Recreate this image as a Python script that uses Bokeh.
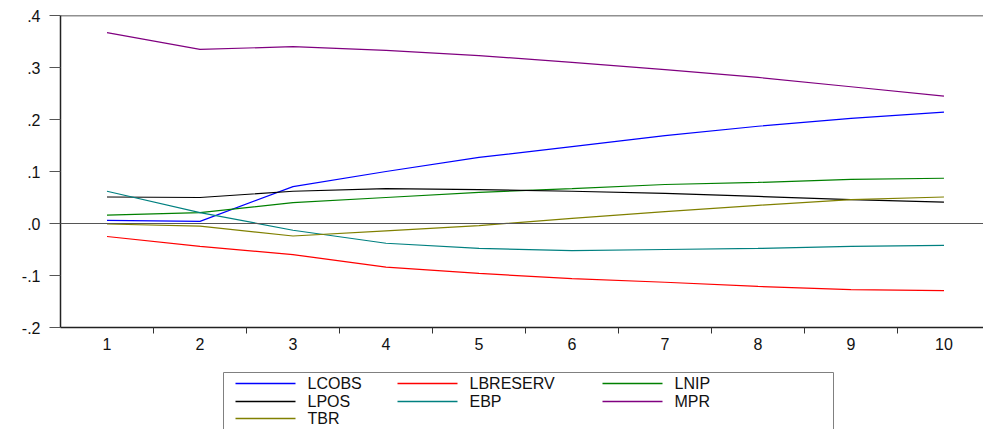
from bokeh.plotting import figure
from bokeh.layouts import column
from bokeh.models import (FixedTicker, CustomJSTickFormatter, Span, Range1d, ColumnDataSource)
from bokeh.core.properties import value
from bokeh.embed import file_html
from bokeh.resources import INLINE

periods = [1, 2, 3, 4, 5, 6, 7, 8, 9, 10]
lcobs = [0.006, 0.004, 0.071, 0.100, 0.127, 0.148, 0.169, 0.187, 0.202, 0.214]
lbreserv = [-0.025, -0.044, -0.060, -0.084, -0.096, -0.106, -0.113, -0.121, -0.127, -0.129]
lnip = [0.016, 0.021, 0.040, 0.050, 0.060, 0.067, 0.075, 0.079, 0.085, 0.087]
lpos = [0.051, 0.050, 0.062, 0.067, 0.065, 0.062, 0.058, 0.052, 0.046, 0.041]
ebp = [0.062, 0.021, -0.013, -0.038, -0.048, -0.052, -0.050, -0.048, -0.044, -0.042]
mpr = [0.367, 0.335, 0.340, 0.333, 0.323, 0.310, 0.296, 0.281, 0.263, 0.245]
tbr = [-0.001, -0.005, -0.024, -0.014, -0.004, 0.010, 0.023, 0.035, 0.046, 0.051]

series_names = ["LCOBS", "LBRESERV", "LNIP", "LPOS", "EBP", "MPR", "TBR"]
series_values = [lcobs, lbreserv, lnip, lpos, ebp, mpr, tbr]
series_colors = ["#0000FF", "#FF0000", "#008000", "#000000", "#008080", "#800080", "#808000"]
y_ticks = [-0.2, -0.1, 0.0, 0.1, 0.2, 0.3, 0.4]

FONT = "Liberation Sans"
W = 983
LEFT = 60

p = figure(width=W, height=365, output_backend="svg", toolbar_location=None,
           x_range=Range1d(0.5, 10.425), y_range=Range1d(-0.2, 0.4),
           min_border_top=15, min_border_right=0, min_border_left=LEFT,
           min_border_bottom=38)
p.outline_line_color = None
p.grid.visible = False

p.add_layout(Span(location=0, dimension="width", line_color="#555555", line_width=1))
p.add_layout(Span(location=0.4, dimension="width", line_color="#222222", line_width=1.5))

for vals, col in zip(series_values, series_colors):
    p.line(periods, vals, line_color=col, line_width=1.2)

xa = p.xaxis[0]
xa.ticker = FixedTicker(ticks=periods, minor_ticks=[1.5, 2.5, 3.5, 4.5, 5.5, 6.5, 7.5, 8.5, 9.5, 10.5])
xa.major_tick_line_color = None
xa.major_tick_in = 0
xa.major_tick_out = 6
xa.minor_tick_in = 0
xa.minor_tick_out = 6
xa.minor_tick_line_color = "#333333"
xa.axis_line_color = "#222222"
xa.axis_line_width = 1.5
xa.major_label_text_font = FONT
xa.major_label_text_font_size = "16px"
xa.major_label_text_color = "#111111"
xa.major_label_standoff = 4

ya = p.yaxis[0]
ya.ticker = FixedTicker(ticks=y_ticks, minor_ticks=[])
ya.formatter = CustomJSTickFormatter(code="return tick.toFixed(1).replace('0.', '.');")
ya.major_tick_in = 0
ya.major_tick_out = 11
ya.major_tick_line_color = "#555555"
ya.axis_line_color = "#222222"
ya.axis_line_width = 1.5
ya.minor_tick_line_color = None
ya.major_label_text_font = FONT
ya.major_label_text_font_size = "16px"
ya.major_label_text_color = "#111111"
ya.major_label_standoff = 9

# ---- legend strip below the chart, laid out in page pixels ----
TOP, BOTTOM = 365, 429
lg = figure(width=W, height=BOTTOM - TOP, output_backend="svg", toolbar_location=None,
            x_range=Range1d(LEFT, W), y_range=Range1d(BOTTOM, TOP),
            x_axis_type=None, y_axis_type=None,
            min_border_left=LEFT, min_border_right=0,
            min_border_top=0, min_border_bottom=0)
lg.outline_line_color = None
lg.grid.visible = False

box_left, box_right, box_top = 223, 833, 372
col_x = [235, 397, 602]     # start of key line in each legend column
row_y = [383, 401, 418]     # centre of each legend row
key_len, gap, key_h = 60, 12, 1.3

lg.quad(left=[box_left], right=[box_right], top=[box_top], bottom=[BOTTOM + 4],
        fill_color=None, line_color="#808080", line_width=1)

ky, tx = [], []
for i, col in enumerate(series_colors):
    c, r = i % 3, i // 3
    lg.quad(left=[col_x[c]], right=[col_x[c] + key_len],
            top=[row_y[r] - key_h / 2], bottom=[row_y[r] + key_h / 2],
            fill_color=col, line_color=None)
    ky.append(row_y[r]); tx.append(col_x[c] + key_len + gap)

src = ColumnDataSource(dict(y=ky, tx=tx, name=series_names))
lg.text(x="tx", y="y", text="name", source=src, text_font=value(FONT),
        text_font_size="16px", text_baseline="middle", text_align="left",
        text_color="#111111")

layout = column(p, lg, spacing=0)
open("out.html", "w").write(file_html(layout, INLINE))
